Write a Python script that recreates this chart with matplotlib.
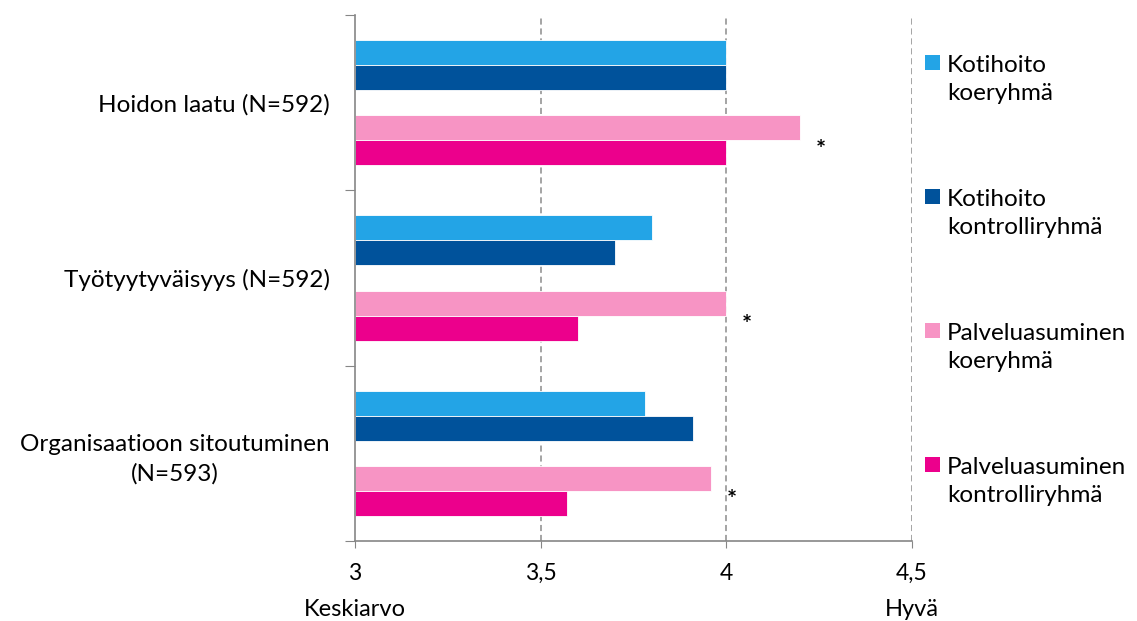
import numpy as np
import matplotlib
matplotlib.use("Agg")
from matplotlib import pyplot as plt
from matplotlib.patches import Rectangle

plt.rcParams['font.family'] = ['Lato', 'DejaVu Sans']

# mittarit ja ryhmien keskiarvot
categories = ['Hoidon laatu (N=592)', 'Työtyytyväisyys (N=592)',
              'Organisaatioon sitoutuminen\n(N=593)']
series = ['Kotihoito\nkoeryhmä', 'Kotihoito\nkontrolliryhmä',
          'Palveluasuminen\nkoeryhmä', 'Palveluasuminen\nkontrolliryhmä']
kotihoito_koe = [4.00, 3.80, 3.78]
kotihoito_kontrolli = [4.00, 3.70, 3.91]
palvelu_koe = [4.20, 4.00, 3.96]
palvelu_kontrolli = [4.00, 3.60, 3.57]
merkitseva = [True, True, True]  # palveluasumisen ero tilastollisesti merkitsevä
x_ticks = [3, 3.5, 4, 4.5]
x_ticklabels = ['3', '3,5', '4', '4,5']

colors = ['#23A4E6', '#00529B', '#F794C4', '#EC008C']
values = [kotihoito_koe, kotihoito_kontrolli, palvelu_koe, palvelu_kontrolli]

fig = plt.figure(figsize=(11.37, 6.21), dpi=100)
ax = fig.add_axes([0.3122, 0.1288, 0.802 - 0.3122, 0.9758 - 0.1288])

# jokainen ryhmä 7 paikkaa: väli, 2 palkkia, väli, 2 palkkia, väli
slots = [1.5, 2.5, 4.5, 5.5]
group = 7
for s, (vals, col) in enumerate(zip(values, colors)):
    ys = [g * group + slots[s] for g in range(len(categories))]
    ax.barh(ys, np.array(vals) - 3, left=3, height=1.0, color=col,
            edgecolor='white', linewidth=0.6)

for g, sig in enumerate(merkitseva):
    if sig:
        ax.text(palvelu_koe[g] + 0.055, g * group + 5.4, '*',
                fontsize=17, fontweight='bold', ha='center', va='center')

ax.set_xlim(3, 4.5)
ax.set_ylim(len(categories) * group, 0)

ax.set_xticks(x_ticks)
ax.set_xticklabels(x_ticklabels, fontsize=16.5)
ax.tick_params(axis='x', length=5, color='#868686', pad=11)
for xv in x_ticks[1:]:
    ax.axvline(xv, color='#8c8c8c', linestyle=(0, (4, 2.5)), linewidth=1.1, zorder=0)

ax.set_yticks([g * group for g in range(len(categories) + 1)])
ax.set_yticklabels([])
ax.set_yticks([g * group + 3.5 for g in range(len(categories))], minor=True)
ax.set_yticklabels(categories, minor=True, fontsize=17.5,
                   multialignment='center', linespacing=1.45)
ax.tick_params(axis='y', which='major', length=7, color='#868686')
ax.tick_params(axis='y', which='minor', length=0, pad=18)

for side in ['top', 'right']:
    ax.spines[side].set_visible(False)
for side in ['left', 'bottom']:
    ax.spines[side].set_color('#868686')
    ax.spines[side].set_linewidth(1.2)

ax.text(3, -0.13, 'Keskiarvo', transform=ax.get_xaxis_transform(),
        ha='center', va='center', fontsize=17)
ax.text(4.5, -0.13, 'Hyvä', transform=ax.get_xaxis_transform(),
        ha='center', va='center', fontsize=17)

# selite oikealla: neliö ensimmäisen rivin kohdalla
legend_y = [0.9106, 0.6559, 0.4011, 0.1464]
line_step = 35 / 526
for lab, col, y in zip(series, colors, legend_y):
    ax.add_patch(Rectangle((1.0233, y - 0.0143), 0.027, 0.0285, facecolor=col,
                           edgecolor='none', transform=ax.transAxes, clip_on=False))
    ax.text(1.0628, y - line_step / 2, lab, transform=ax.transAxes,
            ha='left', va='center', fontsize=17.5, linespacing=1.45)

fig.savefig('out.png', dpi=100)
